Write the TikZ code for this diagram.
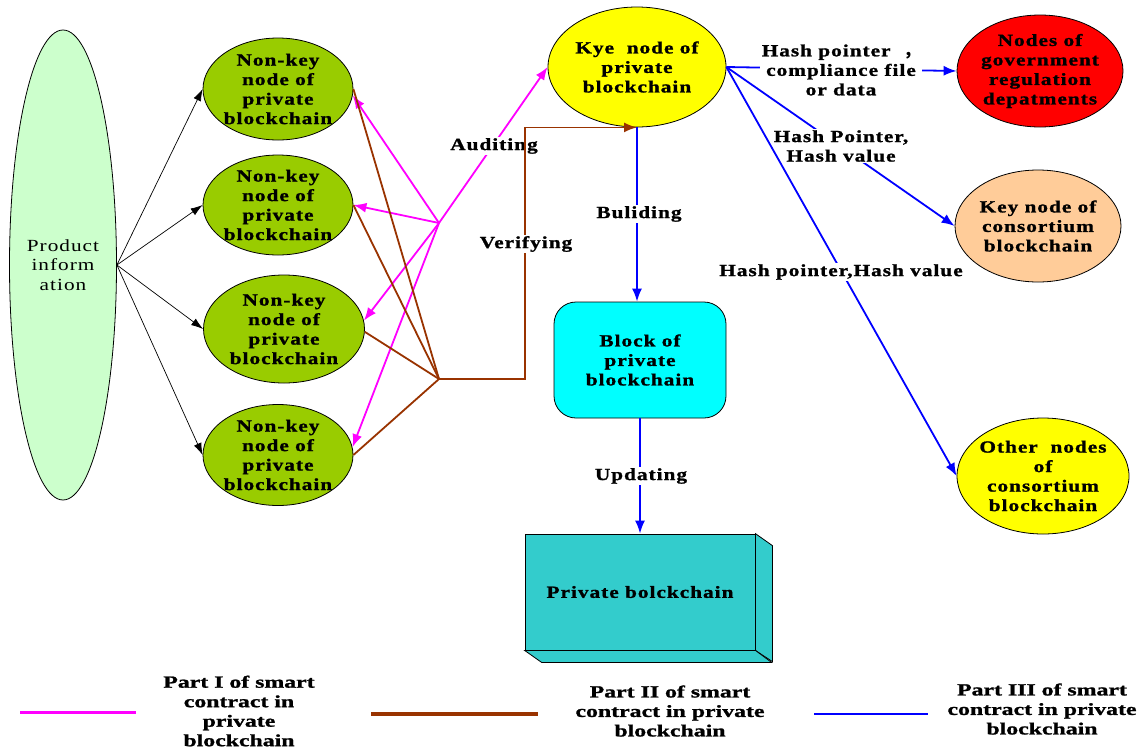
\documentclass[tikz,border=0pt]{standalone}
\usepackage{fontspec}
\setmainfont{Liberation Serif}
\newfontfamily\lf[FakeStretch=1.25,LetterSpace=6,BoldFeatures={FakeBold=1.2}]{Liberation Serif}
\newfontfamily\pf[FakeStretch=1.25,LetterSpace=6]{Liberation Serif}
\newfontfamily\lgf[FakeStretch=1.4,BoldFeatures={FakeBold=1.2}]{Liberation Serif}
\newfontfamily\cjkf{Noto Sans CJK SC}
\usetikzlibrary{shapes.geometric,arrows.meta}
\definecolor{pgreen}{HTML}{99CC00}
\definecolor{pinfo}{HTML}{CCFFCC}
\definecolor{kyeY}{HTML}{FFFF00}
\definecolor{govR}{HTML}{FF0000}
\definecolor{peach}{HTML}{FFCC99}
\definecolor{blkC}{HTML}{00FFFF}
\definecolor{boxC}{HTML}{33CCCC}
\definecolor{mag}{HTML}{FF00FF}
\definecolor{brn}{HTML}{993300}
\definecolor{blu}{HTML}{0000FF}
\begin{document}
\begin{tikzpicture}[x=1pt,y=-1pt,
  txt/.style={font=\lf\bfseries\fontsize{17}{19.5}\selectfont,align=center,inner sep=0pt},
  ell/.style={ellipse,draw=black,line width=0.8pt,inner sep=0pt},
  lbl/.style={txt,fill=white,inner sep=1.5pt},
  tip/.style={-{Latex[length=13pt,width=10pt]}},
  blk/.style={draw=black,line width=0.7pt,-{Latex[length=12pt,width=8pt]}},
  mg/.style={draw=mag,line width=1.8pt,tip},
  br/.style={draw=brn,line width=1.8pt},
  bl/.style={draw=blu,line width=1.8pt},
  leg/.style={font=\lgf\bfseries\fontsize{17}{19.5}\selectfont,align=center,inner sep=0pt}
]
\useasboundingbox[fill=white] (0,0) rectangle (1142,750);

% nodes
\node[ell,fill=pinfo,minimum width=107pt,minimum height=470pt] (pi) at (63,265) {};
\node[txt,font=\pf\fontsize{17}{19.5}\selectfont] (pit) at (pi) {Product\\inform\\ation};

\node[ell,fill=pgreen,minimum width=150pt,minimum height=102pt] (n1) at (278,89) {};
\node[txt] (n1t) at (n1) {Non-key\\node of\\private\\blockchain};
\node[ell,fill=pgreen,minimum width=150pt,minimum height=100pt] (n2) at (278,205) {};
\node[txt] (n2t) at (n2) {Non-key\\node of\\private\\blockchain};
\node[ell,fill=pgreen,minimum width=161pt,minimum height=108pt] (n3) at (284,329) {};
\node[txt] (n3t) at (n3) {Non-key\\node of\\private\\blockchain};
\node[ell,fill=pgreen,minimum width=150pt,minimum height=101pt] (n4) at (278,455) {};
\node[txt] (n4t) at (n4) {Non-key\\node of\\private\\blockchain};

\node[ell,fill=kyeY,minimum width=178pt,minimum height=120pt] (kye) at (637,67) {};
\node[txt] (kyet) at (kye) {Kye~~node of\\private\\blockchain};

\node[ell,fill=govR,minimum width=166pt,minimum height=112pt] (gov) at (1040,71) {};
\node[txt] (govt) at (gov) {Nodes of\\government\\regulation\\depatments};

\node[ell,fill=peach,minimum width=166pt,minimum height=112pt] (kc) at (1038,226) {};
\node[txt] (kct) at (kc) {Key node of\\consortium\\blockchain};

\node[ell,fill=kyeY,minimum width=172pt,minimum height=116pt] (oth) at (1043,476) {};
\node[txt] (otht) at (oth) {Other~~nodes\\of\\consortium\\blockchain};

\node[draw=black,line width=0.8pt,rounded corners=22pt,fill=blkC,minimum width=172pt,minimum height=116pt,txt] (blk) at (640,360) {Block of\\private\\blockchain};

\node[draw=black,line width=0.8pt,fill=boxC,minimum width=230pt,minimum height=116pt,txt] (pbc) at (640,592) {Private bolckchain};
\draw[line width=0.8pt,fill=boxC] (pbc.north east) -- ++(17,12) -- ++(0,116) -- (pbc.south east) -- cycle;
\draw[line width=0.8pt,fill=boxC] (pbc.south west) -- ++(17,12) -- ++(230,0) -- (pbc.south east) -- cycle;

% hubs
\coordinate (mh) at (439,223);
\coordinate (bh) at (439,379);

% black arrows
\draw[blk] (pi.east) -- (n1.west);
\draw[blk] (pi.east) -- (n2.west);
\draw[blk] (pi.east) -- (n3.west);
\draw[blk] (pi.east) -- (n4.west);

% magenta (part I)
\draw[mg] (mh) -- (n1.-5);
\draw[mg] (mh) -- (n2.east);
\draw[mg] (mh) -- (n3.6);
\draw[mg] (mh) -- (n4.6);
\draw[mg] (mh) -- (kye.west);
\node[lbl] (aud) at (494,146) {Auditing};

% brown (part II)
\draw[br] (n1.east) -- (bh);
\draw[br] (n2.east) -- (bh);
\draw[br] (n3.-2) -- (bh);
\draw[br] (n4.east) -- (bh);
\draw[br,tip] (bh) -- ++(86,0) |- (kye.south);
\node[lbl] (ver) at (526,244) {Verifying};

% blue (part III)
\draw[bl,tip] (kye.south) -- (kye.south |- blk.north);
\node[lbl] (bul) at (639,214) {Buliding};
\draw[bl,tip] (blk.south) -- (pbc.north);
\node[lbl] (upd) at (641,476) {Updating};

\draw[bl,tip] (kye.east) -- (gov.west);
\node[lbl] (h1) at (841,70) {Hash pointer~~{\cjkf ，}\\compliance file\\or data};
\draw[bl,tip] (kye.east) -- (kc.west);
\node[lbl] (h2) at (841,146) {Hash Pointer,\\Hash value};
\draw[bl,tip] (kye.east) -- (oth.west);
\node[lbl] (h3) at (841,272) {Hash pointer,Hash value};

% legend
\draw[mag,line width=3pt] (20,712) -- (136,712);
\node[leg] (l1) at (239,711) {Part I of smart\\contract in\\private\\blockchain};
\draw[brn,line width=3.5pt] (371,714) -- (538,714);
\node[leg] (l2) at (670,711) {Part II of smart\\contract in private\\blockchain};
\draw[blu,line width=2pt] (814,714) -- (928,714);
\node[leg] (l3) at (1042,709) {Part III of smart\\contract in private\\blockchain};
\end{tikzpicture}
\end{document}
